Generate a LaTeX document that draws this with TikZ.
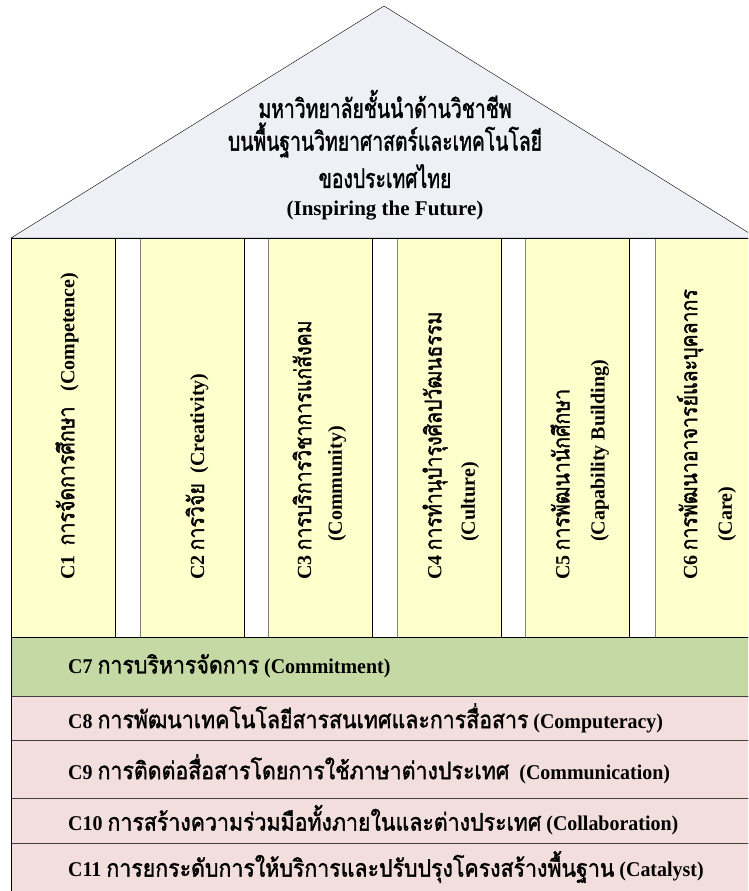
\documentclass[tikz,border=0pt]{standalone}
\usepackage{fontspec}
\setmainfont{Liberation Serif}
\newfontfamily\thaifont[Script=Thai, Scale=1.15, FakeStretch=0.85, AutoFakeBold=1.5]{Loma}
\newfontfamily\thaiwide[Script=Thai, Scale=1.15, FakeStretch=0.93, AutoFakeBold=1.5]{Loma}
\newcommand{\thtext}[1]{{\thaifont #1}}
\newcommand{\thrtext}[1]{{\thaiwide #1}}

\definecolor{roofgray}{RGB}{238,240,246}
\definecolor{pillaryellow}{RGB}{255,255,204}
\definecolor{basegreen}{RGB}{197,217,164}
\definecolor{basepink}{RGB}{242,222,221}

\begin{document}
\begin{tikzpicture}[x=1pt,y=-1pt,
  pillar/.style={draw=black, fill=pillaryellow},
  pillartext/.style={rotate=90, anchor=west, inner sep=0pt,
    font=\bfseries\fontsize{20}{22}\selectfont},
  rowtext/.style={anchor=west, inner sep=0pt, xscale=0.95,
    font=\bfseries\fontsize{21}{24}\selectfont},
  rooftext/.style={inner sep=0pt, font=\bfseries\fontsize{21}{24}\selectfont},
  roofthai/.style={rooftext, xscale=0.86, font=\bfseries\fontsize{23}{26}\selectfont}]

\clip (0,0) rectangle (748,891);
\fill [white] (0,0) rectangle (748,891);

% roof
\draw [fill=roofgray] (11,238) -- (384,6) -- (757,238) -- cycle;

\node [roofthai] (roof1) at (385,104) {\thtext{มหาวิทยาลัยชั้นนำด้านวิชาชีพ}};
\node [roofthai] (roof2) at (385,140) {\thtext{บนพื้นฐานวิทยาศาสตร์และเทคโนโลยี}};
\node [roofthai] (roof3) at (385,176) {\thtext{ของประเทศไทย}};
\node [rooftext] (roof4) at (385,211) {(Inspiring the Future)};

% pillars
\foreach \x in {11,140,268,397,525,655} {
	\draw [pillar] (\x,238) rectangle (\x+104,637);
}
\foreach \x in {140,268,397,525,655}
	\draw [gray] (\x,238) -- (\x,637);

\node [pillartext] (c1) at (67,580) {C1\hspace{0.5em}\thtext{การจัดการศึกษา}\hspace{0.75em}(Competence)};
\node [pillartext] (c2) at (197,580) {C2 \thtext{การวิจัย} ~(Creativity)};
\node [pillartext] (c3a) at (302,580) {C3 \thtext{การบริการวิชาการแก่สังคม}};
\node [pillartext] (c3b) at (337,542) {(Community)};
\node [pillartext] (c4a) at (435,580) {C4 \thtext{การทำนุบำรุงศิลปวัฒนธรรม}};
\node [pillartext] (c4b) at (470,542) {(Culture)};
\node [pillartext] (c5a) at (560,580) {C5 \thtext{การพัฒนานักศึกษา}};
\node [pillartext] (c5b) at (600,542) {(Capability Building)};
\node [pillartext] (c6a) at (690,580) {C6 \thtext{การพัฒนาอาจารย์และบุคลากร}};
\node [pillartext] (c6b) at (727,542) {(Care)};

% base
\draw [fill=basegreen] (11,637) rectangle (760,696);
\draw [draw=black!75, fill=basepink] (11,696) rectangle (760,740);
\draw [draw=black!75, fill=basepink] (11,740) rectangle (760,798);
\draw [draw=black!75, fill=basepink] (11,798) rectangle (760,843);
\draw [draw=black!75, fill=basepink] (11,843) rectangle (760,895);
\draw (11,238) -- (11,891);
\draw (11,238) -- (748,238);

\node [rowtext] (c7) at (68,666) {C7 \thrtext{การบริหารจัดการ} (Commitment)};
\node [rowtext] (c8) at (68,718) {C8 \thrtext{การพัฒนาเทคโนโลยีสารสนเทศและการสื่อสาร} (Computeracy)};
\node [rowtext] (c9) at (68,769) {C9 \thrtext{การติดต่อสื่อสารโดยการใช้ภาษาต่างประเทศ} ~(Communication)};
\node [rowtext] (c10) at (68,820) {C10 \thrtext{การสร้างความร่วมมือทั้งภายในและต่างประเทศ} (Collaboration)};
\node [rowtext] (c11) at (68,867) {C11 \thrtext{การยกระดับการให้บริการและปรับปรุงโครงสร้างพื้นฐาน} (Catalyst)};
\end{tikzpicture}
\end{document}
